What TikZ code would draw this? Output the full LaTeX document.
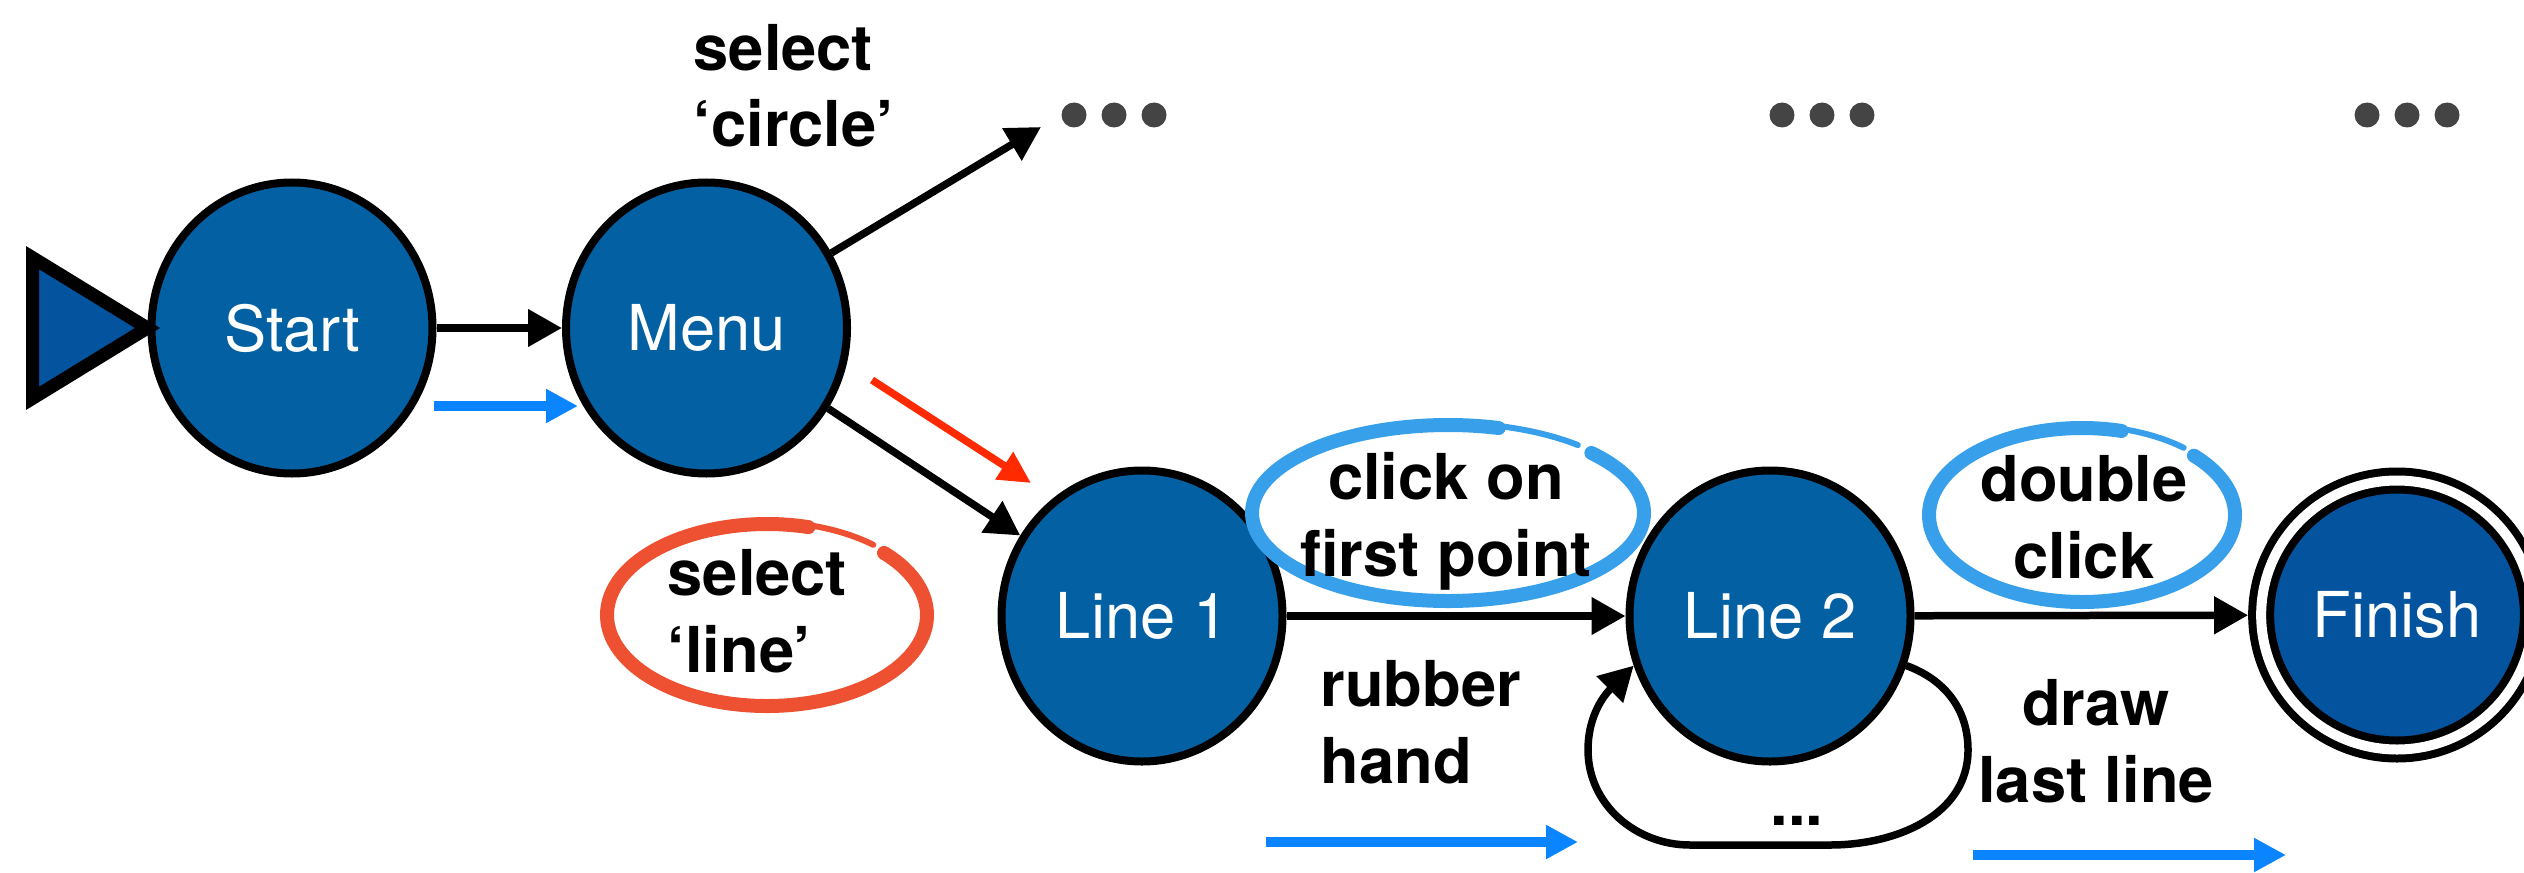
\documentclass[tikz,border=0pt]{standalone}
\usepackage{fontspec}
\setmainfont{TeX Gyre Heros}
\usepackage{xcolor}
\usepackage{tikz}
\usetikzlibrary{positioning, shapes.geometric, arrows.meta, calc}
\definecolor{statefill}{HTML}{0260A3}
\definecolor{finalfill}{HTML}{03539E}
\definecolor{flowblue}{HTML}{0A84FF}
\definecolor{flowred}{HTML}{FF2A00}
\definecolor{ringblue}{HTML}{38A0EA}
\definecolor{ringred}{HTML}{EE5131}
\definecolor{dotgray}{HTML}{444444}

\begin{document}
\begin{tikzpicture}[
  statenode/.style={ellipse, draw=black, line width=0.08cm, fill=statefill,
                    minimum width=2.81cm, minimum height=2.91cm,
                    font=\fontsize{18}{21.6}\selectfont, text=white},
  finalnode/.style={statenode, fill=finalfill, minimum width=2.61cm, minimum height=2.69cm,
                    line width=0.08cm, double, double distance=0.1cm, outer sep=0.13cm},
  lbl/.style={font=\fontsize{18}{21.9}\selectfont\bfseries, inner sep=0pt},
  trans/.style={-{Triangle[length=0.34cm, width=0.36cm]}, line width=0.075cm},
  flow/.style={-{Triangle[length=0.32cm, width=0.32cm]}, line width=0.1cm, color=flowblue},
  redflow/.style={-{Triangle[length=0.32cm, width=0.31cm]}, line width=0.075cm, color=flowred},
  ring/.style={line width=0.14cm, line cap=round},
  ringtail/.style={line width=0.06cm, line cap=round}
]
  \clip (0,0) rectangle (25.24,-8.72);

  \node[statenode] (start)  at (2.92,-3.28)  {Start};
  \node[statenode] (menu)   at (7.065,-3.28) {Menu};
  \node[statenode] (line1)  at (11.42,-6.16) {Line 1};
  \node[statenode] (line2)  at (17.70,-6.16) {Line 2};
  \node[finalnode] (finish) at (23.97,-6.15) {Finish};

  \filldraw[fill=finalfill, line width=0.13cm] (start.west) -- ++(-1.15,0.704) -- ++(0,-1.408) -- cycle;

  \foreach \m/\x in {more1/11.14, more2/18.22, more3/24.07} {
    \coordinate (\m) at (\x,-1.15);
    \foreach \dx in {-0.4,0,0.4}
      \fill[dotgray] ($(\m)+(\dx,0)$) circle (0.125);
  }

  \draw[ring, ringred] (7.67,-6.15) ++(43:1.60cm and 0.91cm)
    arc[start angle=43, end angle=-285, x radius=1.60cm, y radius=0.91cm];
  \draw[ringtail, ringred] (7.67,-6.15) ++(76:1.62cm and 0.93cm)
    arc[start angle=76, end angle=49, x radius=1.62cm, y radius=0.93cm];

  \draw[ring, ringblue] (14.48,-5.13) ++(43:1.96cm and 0.88cm)
    arc[start angle=43, end angle=-285, x radius=1.96cm, y radius=0.88cm];
  \draw[ringtail, ringblue] (14.48,-5.13) ++(76:1.98cm and 0.90cm)
    arc[start angle=76, end angle=49, x radius=1.98cm, y radius=0.90cm];

  \draw[ring, ringblue] (20.82,-5.15) ++(43:1.53cm and 0.87cm)
    arc[start angle=43, end angle=-285, x radius=1.53cm, y radius=0.87cm];
  \draw[ringtail, ringblue] (20.82,-5.15) ++(76:1.55cm and 0.89cm)
    arc[start angle=76, end angle=49, x radius=1.55cm, y radius=0.89cm];

  \node[lbl, anchor=base west, align=left] (selcircle) at (6.93,-1.47) {select\\‘circle’};
  \node[lbl, anchor=base west, align=left] (selline)   at (6.67,-6.72) {select\\‘line’};
  \node[lbl, anchor=base, align=center] (clickfirst)   at (14.46,-5.76) {click on\\first point};
  \node[lbl, anchor=base west, align=left] (rubber)    at (13.20,-7.83) {rubber\\hand};
  \node[lbl, anchor=base, align=center] (dblclick)     at (20.84,-5.78) {double\\click};
  \node[lbl, anchor=base, align=center] (drawlast)     at (20.96,-8.02) {draw\\last line};
  \node[lbl, anchor=base] (loopdots)                   at (17.97,-8.25) {...};

  \coordinate (tomore) at (10.41,-1.27);
  \coordinate (reda)   at (8.72,-3.80);
  \coordinate (redb)   at (10.31,-4.83);
  \coordinate (bluea1) at (4.34,-4.06);
  \coordinate (bluea2) at (5.78,-4.06);
  \coordinate (blueb1) at (12.66,-8.42);
  \coordinate (blueb2) at (15.78,-8.42);
  \coordinate (bluec1) at (19.73,-8.55);
  \coordinate (bluec2) at (22.86,-8.55);

  \draw[trans] (start) -- (menu);
  \draw[trans] (menu)  -- (tomore);
  \draw[trans] (menu)  -- (line1);
  \draw[trans] (line1) -- (line2);
  \draw[trans] (line2) -- (finish);
  \draw[trans] (line2.-20) to[out=-20,in=90] (19.68,-7.5) to[out=-90,in=0] (18.3,-8.45)
    -- (16.9,-8.45) to[out=180,in=-90] (15.88,-7.5) to[out=90,in=225] (line2.200);

  \draw[redflow] (reda) -- (redb);
  \draw[flow] (bluea1) -- (bluea2);
  \draw[flow] (blueb1) -- (blueb2);
  \draw[flow] (bluec1) -- (bluec2);
\end{tikzpicture}
\end{document}
